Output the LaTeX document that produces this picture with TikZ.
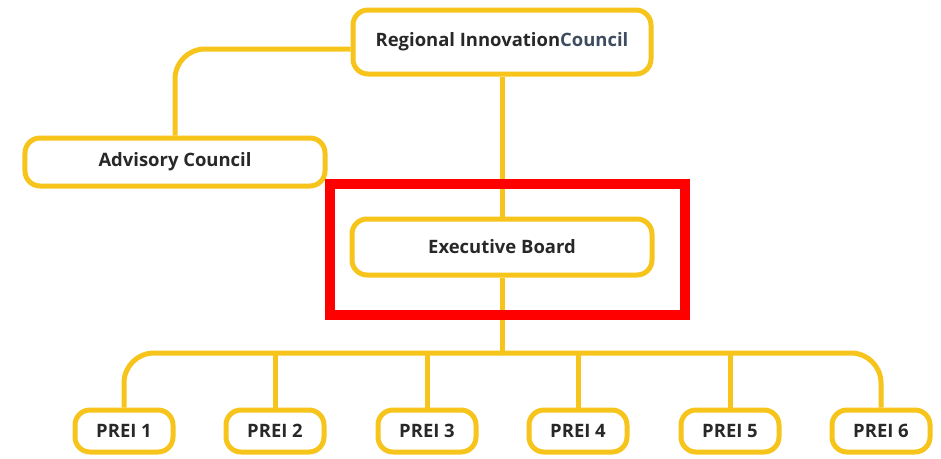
\documentclass[tikz,border=0pt]{standalone}
\usepackage{fontspec}
\setmainfont{Open Sans}
\definecolor{gold}{RGB}{246,196,26}
\definecolor{ink}{RGB}{40,40,40}
\definecolor{slate}{RGB}{62,76,96}
\tikzset{
  unit/.style={draw=gold,line width=1mm,rounded corners=3mm,fill=white,text=ink,
    font=\bfseries\fontsize{10.5}{12}\selectfont,inner sep=0pt},
  link/.style={draw=gold,line width=1mm,rounded corners=6mm},
}
\begin{document}
\begin{tikzpicture}[x=0.2mm,y=-0.2mm]
\useasboundingbox (0,0) rectangle (941,458);
\node[unit,minimum width=5.96cm,minimum height=1.28cm] (ric) at (502,42) {Regional Innovation\textcolor{slate}{Council}};
\node[unit,minimum width=6cm,minimum height=0.96cm] (adv) at (175,162) {Advisory Council};
\node[unit,minimum width=6cm,minimum height=1.12cm] (exb) at (502,247) {Executive Board};
\foreach \i/\x in {1/124,2/275,3/427,4/578,5/730,6/881}
    \node[unit,minimum width=1.96cm,minimum height=0.84cm] (p\i) at (\x,431) {PREI \i};
\coordinate (bus) at (502,353);

\draw[link] (ric.west) ++(0,7) -| (adv.north);
\draw[link] (ric.south) -- (exb.north);
\draw[link] (exb.south) -- (bus);
\draw[link] (bus) -| (p1.north);
\draw[link] (bus) -| (p6.north);
\foreach \i in {2,...,5}
    \draw[link] (p\i.north) -- (p\i.north |- bus);
\draw[red,line width=2mm] (330,184) rectangle (685,315);

\end{tikzpicture}
\end{document}
